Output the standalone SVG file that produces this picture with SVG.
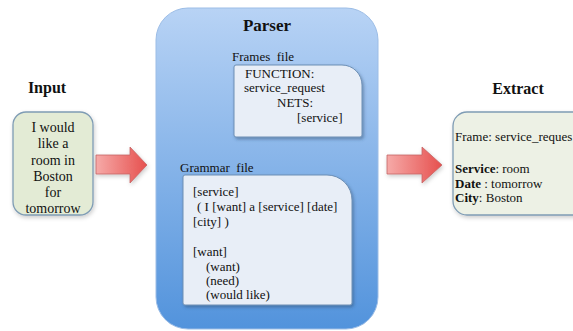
<svg xmlns="http://www.w3.org/2000/svg" width="573" height="331" viewBox="0 0 573 331">
<defs>
<linearGradient id="parserGrad" x1="0" y1="0" x2="0" y2="1">
<stop offset="0" stop-color="#b8d3f5"/>
<stop offset="1" stop-color="#5293dc"/>
</linearGradient>
<linearGradient id="arrowGrad" x1="0" y1="0" x2="1" y2="0">
<stop offset="0" stop-color="#f6aaa8"/>
<stop offset="1" stop-color="#e6504e"/>
</linearGradient>
<filter id="shadow" x="-10%" y="-10%" width="130%" height="130%">
<feDropShadow dx="1.5" dy="2" stdDeviation="1.5" flood-color="#2a4a70" flood-opacity="0.45"/>
</filter>
<filter id="softshadow" x="-10%" y="-10%" width="130%" height="130%">
<feDropShadow dx="1" dy="2" stdDeviation="2" flood-color="#000" flood-opacity="0.2"/>
</filter>
</defs>
<style>
text { font-family: "Liberation Serif", "Times New Roman", serif; fill: #111; }
.hdr { font-weight: bold; font-size: 16px; text-anchor: middle; }
.t13 { font-size: 13px; white-space: pre; }
.t14 { font-size: 14px; text-anchor: middle; }
.b { font-weight: bold; }
.greenbox { fill: #e3ebd5; stroke: #7f9cb4; stroke-width: 1.3; }
.inner { fill: #e8eef7; stroke: #6d8fb5; stroke-width: 1; }
.arrow { fill: url(#arrowGrad); stroke: #c46464; stroke-width: 0.8; }
</style>
<rect width="573" height="331" fill="#ffffff"/>

<g id="input">
<text class="hdr" x="47" y="93">Input</text>
<rect class="greenbox" x="13" y="112" width="80" height="103" rx="13" filter="url(#softshadow)"/>
<text class="t14" x="53" y="132">I would</text>
<text class="t14" x="53" y="148">like a</text>
<text class="t14" x="53" y="165">room in</text>
<text class="t14" x="53" y="181">Boston</text>
<text class="t14" x="53" y="197">for</text>
<text class="t14" x="53" y="213">tomorrow</text>
</g>

<g id="parser">
<rect x="156" y="8" width="222" height="321" rx="32" fill="url(#parserGrad)" stroke="#9cbde6" stroke-width="1"/>
<text class="hdr" x="267" y="31" style="font-size:17px">Parser</text>
</g>

<g id="frames-file">
<text class="t13" x="232" y="61">Frames  file</text>
<path class="inner" filter="url(#shadow)" d="M236,65 H342 A20,20 0 0 1 362,85 V135 Q362,137 360,137 H236 Q234,137 234,135 V67 Q234,65 236,65 Z"/>
<text class="t13" x="245" y="78">FUNCTION:</text>
<text class="t13" x="244" y="92">service_request</text>
<text class="t13" x="277" y="107">NETS:</text>
<text class="t13" x="297" y="122">[service]</text>
</g>

<g id="grammar-file">
<text class="t13" x="180" y="172">Grammar  file</text>
<path class="inner" filter="url(#shadow)" d="M185,175 H327 A25,25 0 0 1 352,200 V303 Q352,305 350,305 H185 Q183,305 183,303 V177 Q183,175 185,175 Z"/>
<text class="t13" x="193" y="196">[service]</text>
<text class="t13" x="197" y="211">( I [want] a [service] [date]</text>
<text class="t13" x="193" y="226">[city] )</text>
<text class="t13" x="193" y="256">[want]</text>
<text class="t13" x="206" y="271">(want)</text>
<text class="t13" x="206" y="285">(need)</text>
<text class="t13" x="206" y="299">(would like)</text>
</g>

<g id="extract">
<text class="hdr" x="518" y="94">Extract</text>
<rect class="greenbox" x="453" y="112" width="140" height="103" rx="14" style="fill:#edf1e5" filter="url(#softshadow)"/>
<text class="t13" x="455" y="141">Frame: service_reques</text>
<text class="t13" x="455" y="173"><tspan class="b">Service</tspan>: room</text>
<text class="t13" x="455" y="188"><tspan class="b">Date</tspan> : tomorrow</text>
<text class="t13" x="455" y="202"><tspan class="b">City</tspan>: Boston</text>
</g>

<g id="connectors">
<path class="arrow" filter="url(#softshadow)" d="M96,155 H130 V147 L147,165 L130,183 V174 H96 Z"/>
<path class="arrow" filter="url(#softshadow)" d="M387,155 H422 V147 L442,165 L422,183 V174 H387 Z"/>
</g>
</svg>
